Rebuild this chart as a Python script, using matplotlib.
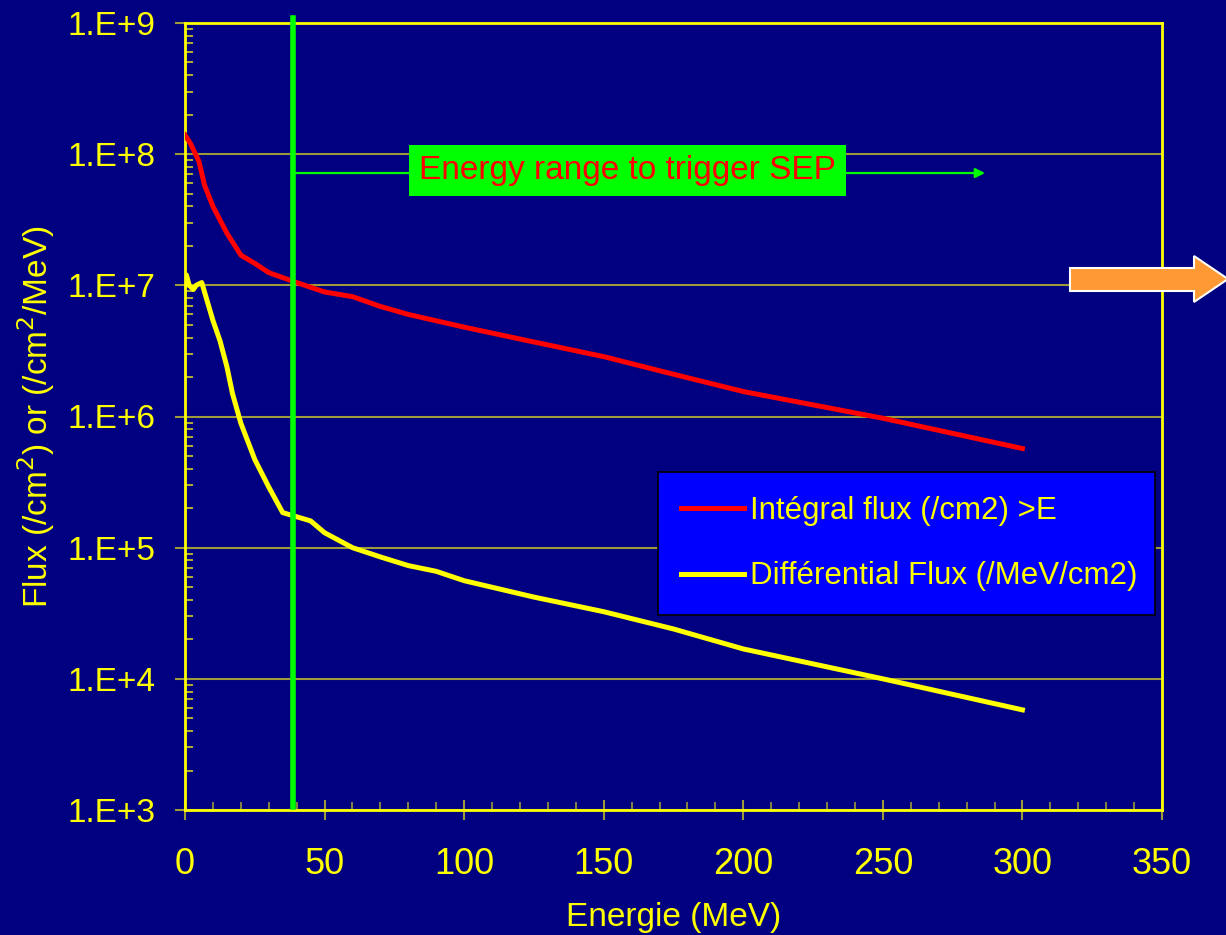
import math
import matplotlib
matplotlib.use("Agg")
import matplotlib.pyplot as plt
from matplotlib.patches import Polygon
from matplotlib.ticker import LogLocator, FixedLocator, MultipleLocator, FuncFormatter
import matplotlib.transforms as mtransforms

plt.rcParams['font.family'] = ['Liberation Sans', 'DejaVu Sans']

# ---- data ----
energy_int = [0, 2, 5, 7, 10, 15, 20, 25, 30, 40, 50, 60, 70, 80, 100, 125, 150, 175, 200, 250, 300]
flux_int = [1.4e8, 1.2e8, 8.8e7, 5.8e7, 4.0e7, 2.5e7, 1.7e7, 1.47e7, 1.25e7, 1.05e7, 8.9e6, 8.2e6,
            6.9e6, 6.0e6, 4.8e6, 3.7e6, 2.86e6, 2.1e6, 1.55e6, 9.7e5, 5.7e5]

energy_diff = [0, 0.5, 1.5, 3, 4, 6, 10, 12.5, 15, 17, 20, 25, 30, 35, 40, 45, 50, 60, 70, 80, 90,
               100, 125, 150, 175, 200, 250, 300]
flux_diff = [1.0e7, 1.2e7, 1.0e7, 9.3e6, 1.0e7, 1.05e7, 5.4e6, 3.8e6, 2.4e6, 1.5e6, 8.9e5, 4.7e5,
             2.9e5, 1.85e5, 1.72e5, 1.6e5, 1.3e5, 1.0e5, 8.5e4, 7.3e4, 6.6e4, 5.6e4, 4.2e4, 3.25e4,
             2.4e4, 1.69e4, 1.0e4, 5.8e3]

label_int = "Intégral flux (/cm2) >E"
label_diff = "Différential Flux (/MeV/cm2)"
sep_threshold = 38.7
sep_arrow_end = 286.6
sep_arrow_level = 7.18e7
sep_text = "Energy range to trigger SEP"
x_ticks = [0, 50, 100, 150, 200, 250, 300, 350]
y_ticks = [1e3, 1e4, 1e5, 1e6, 1e7, 1e8, 1e9]

# ---- style ----
NAVY = '#000080'
YEL = '#FFFF00'
OLIVE = '#9C9A3A'
GREEN = '#00FF00'

W, H = 1226, 935
fig = plt.figure(figsize=(W / 100, H / 100), dpi=100, facecolor=NAVY)
ax = fig.add_axes([185 / W, 1 - 810 / H, (1162 - 185) / W, (810 - 23) / H])
ax.set_facecolor(NAVY)

ax.set_yscale('log')
ax.set_xlim(0, 350)
ax.set_ylim(1e3, 1e9)

# gridlines
for yv in y_ticks:
    ax.axhline(yv, color=OLIVE, lw=1.5, zorder=1)

ax.plot(energy_int, flux_int, color='#FF0000', lw=3.6, solid_joinstyle='round', zorder=3, label=label_int)
ax.plot(energy_diff, flux_diff, color=YEL, lw=3.6, solid_joinstyle='round', zorder=3, label=label_diff)

# green vertical threshold line
trans = mtransforms.blended_transform_factory(ax.transData, ax.transAxes)
ax.plot([sep_threshold, sep_threshold], [0.004, 1.0064], transform=trans, color=GREEN, lw=4,
        clip_on=False, zorder=4)

# horizontal arrow
ax.annotate('', xy=(sep_arrow_end, sep_arrow_level), xytext=(sep_threshold + 1.0, sep_arrow_level),
            arrowprops=dict(arrowstyle='-|>', color=GREEN, lw=1.6, mutation_scale=14,
                            shrinkA=0, shrinkB=0), zorder=4)
ax.text(158.5, 10 ** 7.879, sep_text, color='#FF0000', fontsize=24, ha='center', va='center',
        zorder=5, bbox=dict(boxstyle='square,pad=0.3', facecolor=GREEN, edgecolor='none'))

# spines
for s in ax.spines.values():
    s.set_color(YEL)
    s.set_linewidth(2)

# ticks
ax.xaxis.set_major_locator(FixedLocator(x_ticks))
ax.xaxis.set_minor_locator(MultipleLocator(10))
ax.yaxis.set_major_locator(FixedLocator(y_ticks))
ax.yaxis.set_minor_locator(LogLocator(base=10, subs=range(2, 10), numticks=20))
ax.yaxis.set_major_formatter(FuncFormatter(lambda v, p: "1.E+%d" % round(math.log10(v))))

ax.tick_params(axis='x', which='major', direction='inout', length=14, width=1.5, color=OLIVE,
               labelcolor=YEL, labelsize=26, pad=20)
ax.tick_params(axis='x', which='minor', direction='in', length=6, width=1.2, color=OLIVE)
ax.tick_params(axis='y', which='major', direction='out', length=7, width=1.5, color=OLIVE,
               labelcolor=YEL, labelsize=24, pad=14)
ax.tick_params(axis='y', which='minor', direction='in', length=6, width=1.2, color='#CFCB2A')

ax.set_xlabel("Energie (MeV)", color=YEL, fontsize=24, labelpad=14)
ax.set_ylabel("Flux (/cm$^2$) or (/cm$^2$/MeV)", color=YEL, fontsize=24, labelpad=8)

# legend
x0 = (658 - 185) / 977
x1 = (1155 - 185) / 977
yb = (810 - 615) / 787
yt = (810 - 472) / 787
leg = ax.legend(loc='center left', bbox_to_anchor=(x0, yb, x1 - x0, yt - yb), mode='expand',
                borderaxespad=0, fontsize=22.5, frameon=True, fancybox=False, facecolor='#0000FF',
                edgecolor='black', framealpha=1, handlelength=2.0, handletextpad=0.2,
                labelspacing=1.15, borderpad=0.75)
for t in leg.get_texts():
    t.set_color(YEL)
leg.get_frame().set_linewidth(1.2)
leg.set_zorder(6)

# orange arrow on the right (figure pixel coordinates -> inches)
def P(x, y):
    return (x / 100, (H - y) / 100)

arrow_pts = [P(1070, 268), P(1194, 268), P(1194, 256), P(1228, 279), P(1194, 302), P(1194, 291), P(1070, 291)]
fig.patches.append(Polygon(arrow_pts, closed=True, facecolor='#FF9933', edgecolor='white', lw=1.5,
                           transform=fig.dpi_scale_trans, figure=fig))

fig.savefig('out.png', dpi=100, facecolor=NAVY)
